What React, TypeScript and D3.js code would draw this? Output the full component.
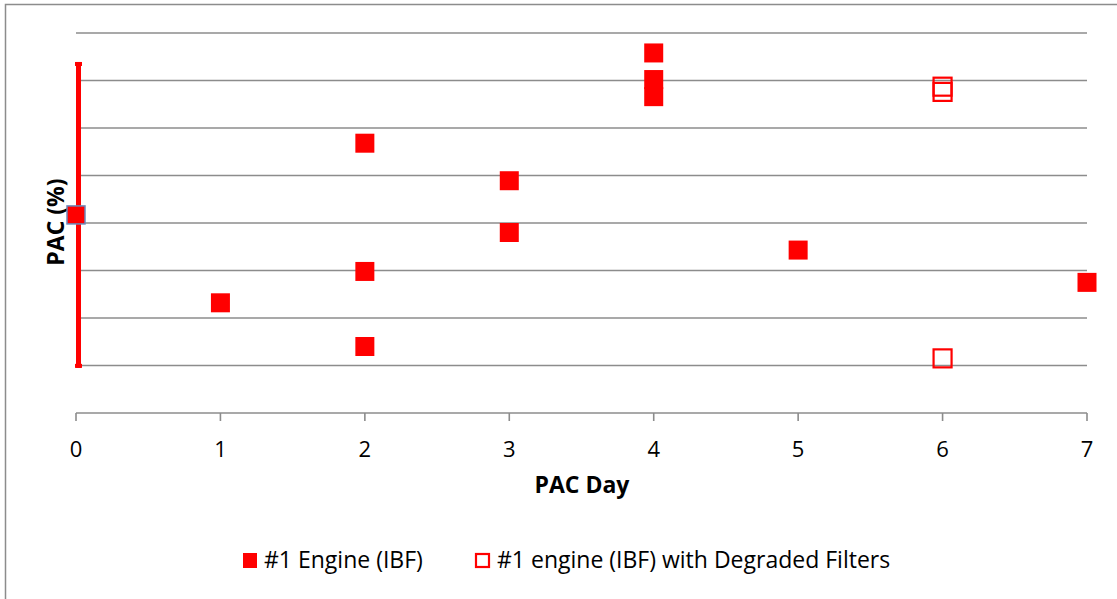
import React from "react";
import * as d3 from "d3";

// ---- data ----
const xTicks = [0, 1, 2, 3, 4, 5, 6, 7];
const gridValues = [1, 2, 3, 4, 5, 6, 7, 8];

const engineDay = [1, 2, 2, 2, 3, 3, 4, 4, 4, 5, 7];
const enginePac = [2.32, 5.68, 2.98, 1.4, 4.89, 3.8, 7.58, 7.02, 6.66, 3.43, 2.75];

const degradedDay = [6, 6, 6];
const degradedPac = [6.87, 6.76, 1.15];

const baselineDay = [0];
const baselinePac = [4.17];
const baselineErr = [3.22];

const seriesNames = ["#1 Engine (IBF)", "#1 engine (IBF) with Degraded Filters"];

const W = 1117;
const H = 599;
const FONT = "'Open Sans', 'Liberation Sans', sans-serif";
const RED = "#ff0000";
const GRID = "#8c8c8c";

export default function App() {
  const x = d3.scaleLinear().domain([0, 7]).range([76, 1087]);
  const y = d3.scaleLinear().domain([0, 8]).range([413, 33]);
  const m = 19; // marker size

  return (
    <svg
      width={W}
      height={H}
      style={{ position: "absolute", left: 0, top: 0, background: "#fff" }}
    >
      <rect x={5.5} y={4.5} width={1300} height={800} fill="#fff" stroke={GRID} strokeWidth={1.5} />

      {/* gridlines */}
      {gridValues.map((v) => (
        <line key={v} x1={x(0)} x2={x(7)} y1={y(v)} y2={y(v)} stroke={GRID} strokeWidth={1.6} />
      ))}

      {/* x axis */}
      <line x1={x(0)} x2={x(7)} y1={y(0)} y2={y(0)} stroke={GRID} strokeWidth={1.6} />
      {xTicks.map((t) => (
        <g key={t}>
          <line x1={x(t)} x2={x(t)} y1={y(0)} y2={y(0) + 8} stroke={GRID} strokeWidth={1.6} />
          <text x={x(t)} y={y(0) + 44} textAnchor="middle" fontFamily={FONT} fontSize={22} fill="#000">
            {t}
          </text>
        </g>
      ))}

      {/* axis titles */}
      <text x={582} y={493} textAnchor="middle" fontFamily={FONT} fontSize={23} fontWeight="bold" fill="#000">
        PAC Day
      </text>
      <text
        transform={`translate(64,222) rotate(-90)`}
        textAnchor="middle"
        fontFamily={FONT}
        fontSize={23}
        fontWeight="bold"
        fill="#000"
      >
        PAC (%)
      </text>

      {/* error bar for baseline */}
      {baselineDay.map((d, i) => {
        const top = y(baselinePac[i] + baselineErr[i]);
        const bot = y(baselinePac[i] - baselineErr[i]);
        return (
          <g key={"e" + i}>
            <rect x={x(d)} y={top} width={5} height={bot - top} fill={RED} />
            <rect x={x(d) - 1} y={top} width={7} height={4} fill={RED} />
            <rect x={x(d) - 1} y={bot - 4} width={7} height={4} fill={RED} />
          </g>
        );
      })}

      {/* filled markers */}
      {engineDay.map((d, i) => (
        <rect key={"f" + i} x={x(d) - m / 2} y={y(enginePac[i]) - m / 2} width={m} height={m} fill={RED} />
      ))}

      {/* baseline marker */}
      {baselineDay.map((d, i) => (
        <rect
          key={"b" + i}
          x={x(d) - 9}
          y={y(baselinePac[i]) - 9}
          width={18}
          height={18}
          fill={RED}
          stroke="#6b87b8"
          strokeWidth={1.5}
        />
      ))}

      {/* open markers */}
      {degradedDay.map((d, i) => (
        <rect
          key={"o" + i}
          x={x(d) - 9}
          y={y(degradedPac[i]) - 9}
          width={18}
          height={18}
          fill="none"
          stroke={RED}
          strokeWidth={2.2}
        />
      ))}

      {/* legend */}
      <rect x={243} y={553} width={14} height={15} fill={RED} />
      <text x={264} y={568} fontFamily={FONT} fontSize={23} fill="#000">
        {seriesNames[0]}
      </text>
      <rect x={476} y={554} width={13} height={13} fill="none" stroke={RED} strokeWidth={2.2} />
      <text x={497} y={568} fontFamily={FONT} fontSize={23} fill="#000">
        {seriesNames[1]}
      </text>
    </svg>
  );
}
